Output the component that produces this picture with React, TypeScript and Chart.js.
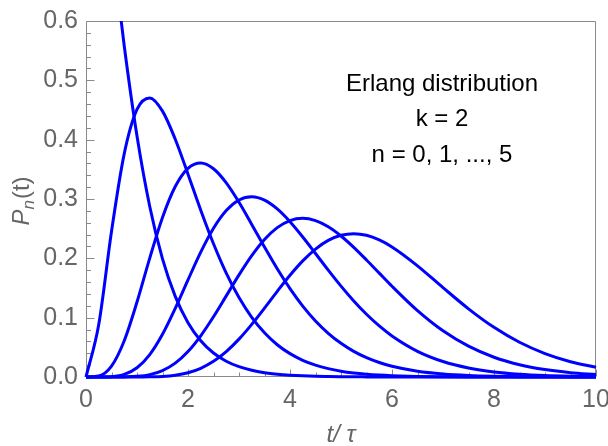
import React, { useEffect, useRef } from "react";
import { Chart, registerables } from "chart.js";

Chart.register(...registerables);

// t / tau sample positions
const T = [
  0, 0.25, 0.5, 0.75, 1, 1.25, 1.5, 1.75, 2, 2.25, 2.5, 2.75, 3, 3.25, 3.5, 3.75, 4,
  4.25, 4.5, 4.75, 5, 5.25, 5.5, 5.75, 6, 6.5, 7, 7.5, 8, 8.5, 9, 9.5, 10,
];

const P0 = [
  1, 0.9098, 0.7358, 0.5578, 0.406, 0.2873, 0.1991, 0.1359, 0.0916, 0.0611, 0.0404, 0.0266,
  0.0174, 0.0113, 0.0073, 0.0047, 0.003, 0.0019, 0.0012, 0.0008, 0.0005, 0.0003, 0.0002,
  0.0001, 0.0001, 0, 0, 0, 0, 0, 0, 0, 0,
];
const P1 = [
  0, 0.0885, 0.2453, 0.3765, 0.4511, 0.4703, 0.4481, 0.4007, 0.3419, 0.2812, 0.2246, 0.1751,
  0.1339, 0.1006, 0.0745, 0.0544, 0.0394, 0.0282, 0.02, 0.0141, 0.0098, 0.0068, 0.0047,
  0.0032, 0.0022, 0.001, 0.0005, 0.0002, 0.0001, 0, 0, 0, 0,
];
const P2 = [
  0, 0.0017, 0.0184, 0.0612, 0.1263, 0.2004, 0.2689, 0.321, 0.3517, 0.3606, 0.3509, 0.3272,
  0.2945, 0.2572, 0.2189, 0.1823, 0.1489, 0.1195, 0.0945, 0.0737, 0.0568, 0.0432, 0.0326,
  0.0244, 0.018, 0.0097, 0.0051, 0.0026, 0.0013, 0.0006, 0.0003, 0.0001, 0.0001,
];
const P3 = [
  0, 0, 0.0006, 0.0043, 0.0155, 0.0378, 0.072, 0.1156, 0.1637, 0.2105, 0.2507, 0.2806,
  0.2983, 0.3037, 0.298, 0.2832, 0.2617, 0.236, 0.2082, 0.1801, 0.1531, 0.1281, 0.1057,
  0.086, 0.0692, 0.0433, 0.0261, 0.0152, 0.0086, 0.0048, 0.0026, 0.0014, 0.0007,
];
const P4 = [
  0, 0, 0, 0.0002, 0.0011, 0.004, 0.0108, 0.0234, 0.043, 0.0695, 0.1015, 0.1367, 0.1721,
  0.2046, 0.2318, 0.2518, 0.2637, 0.2674, 0.2635, 0.2532, 0.2377, 0.2186, 0.1973, 0.1751,
  0.1529, 0.1118, 0.0778, 0.0519, 0.0333, 0.0207, 0.0125, 0.0073, 0.0042,
];
const P5 = [
  0, 0, 0, 0, 0, 0.0003, 0.001, 0.003, 0.0072, 0.0147, 0.0264, 0.0428, 0.0638, 0.0887,
  0.1162, 0.1444, 0.1715, 0.1957, 0.2156, 0.2302, 0.2388, 0.2416, 0.2388, 0.231, 0.2192,
  0.1874, 0.1506, 0.1149, 0.0837, 0.0585, 0.0395, 0.0258, 0.0164,
];

const SERIES = [P0, P1, P2, P3, P4, P5];

const ANNOTATION = ["Erlang distribution", "k = 2", "n = 0, 1, ..., 5"];

const FONT = "'Liberation Sans', Arial, sans-serif";
const TICK_GRAY = "#666666";
const FRAME_GRAY = "#8a8a8a";
const BLUE = "#0000ff";

const framePlugin = {
  id: "mmaFrame",
  beforeDatasetsDraw(chart: any) {
    const { ctx, chartArea, scales } = chart;
    const { left, right, top, bottom } = chartArea;
    const xs = scales.x;
    const ys = scales.y;
    ctx.save();
    ctx.strokeStyle = FRAME_GRAY;
    ctx.lineWidth = 1;
    const L = Math.round(left) + 0.5;
    const R = Math.round(right) - 0.5;
    const Tp = Math.round(top) + 0.5;
    const B = Math.round(bottom) - 0.5;
    ctx.beginPath();
    ctx.moveTo(L, Tp);
    ctx.lineTo(R, Tp);
    ctx.lineTo(R, B);
    ctx.lineTo(L, B);
    ctx.closePath();
    ctx.stroke();
    // x ticks (inward)
    ctx.beginPath();
    for (let i = 0; i <= 20; i++) {
      const v = i * 0.5;
      const px = Math.round(xs.getPixelForValue(v)) + 0.5;
      const len = i % 4 === 0 ? 7 : 4;
      ctx.moveTo(px, B);
      ctx.lineTo(px, B - len);
    }
    // y ticks (inward)
    for (let i = 0; i <= 30; i++) {
      const v = i * 0.02;
      const py = Math.round(ys.getPixelForValue(v)) + 0.5;
      const len = i % 5 === 0 ? 8 : 4.5;
      ctx.moveTo(L, py);
      ctx.lineTo(L + len, py);
    }
    ctx.stroke();
    ctx.restore();
  },
  afterDraw(chart: any) {
    const { ctx, chartArea } = chart;
    const { left, right, top, bottom } = chartArea;
    ctx.save();
    // annotation
    ctx.fillStyle = "#000000";
    ctx.font = `24px ${FONT}`;
    ctx.textAlign = "center";
    ctx.textBaseline = "alphabetic";
    const cx = 442;
    const baselines = [91, 126, 162];
    ANNOTATION.forEach((s, i) => ctx.fillText(s, cx, baselines[i]));

    // x axis title: t/τ
    ctx.fillStyle = TICK_GRAY;
    ctx.font = `italic 24px ${FONT}`;
    ctx.textAlign = "center";
    ctx.fillText("t/ τ", (left + right) / 2, 442);

    // y axis title: P_n(t)
    const midY = (top + bottom) / 2 + 2;
    ctx.translate(29, midY);
    ctx.rotate(-Math.PI / 2);
    ctx.textAlign = "left";
    const fMain = `24px ${FONT}`;
    const fItal = `italic 24px ${FONT}`;
    const fSub = `italic 17px ${FONT}`;
    ctx.font = fItal;
    const wP = ctx.measureText("P").width;
    ctx.font = fSub;
    const wn = ctx.measureText("n").width;
    ctx.font = fMain;
    const wt = ctx.measureText("(t)").width;
    const total = wP + wn + 1 + wt;
    let xx = -total / 2;
    ctx.font = fItal;
    ctx.fillText("P", xx, 0);
    xx += wP;
    ctx.font = fSub;
    ctx.fillText("n", xx, 5);
    xx += wn + 1;
    ctx.font = fMain;
    ctx.fillText("(t)", xx, 0);
    ctx.restore();
  },
};

export default function App() {
  const canvasRef = useRef<HTMLCanvasElement | null>(null);

  useEffect(() => {
    document.body.style.margin = "0";
    const canvas = canvasRef.current;
    if (!canvas) return;
    const datasets = SERIES.map((vals, i) => ({
      label: `n = ${i}`,
      data: T.map((t, j) => ({ x: t, y: vals[j] })),
      borderColor: BLUE,
      backgroundColor: BLUE,
      borderWidth: 3,
      pointRadius: 0,
      fill: false,
      cubicInterpolationMode: "monotone" as const,
      clip: { left: 4, right: 4, top: 0, bottom: 4 },
    }));
    const chart = new Chart(canvas, {
      type: "line",
      data: { datasets },
      options: {
        animation: false,
        responsive: false,
        devicePixelRatio: 1,
        layout: { padding: { top: 21, right: 12, left: 0, bottom: 0 } },
        plugins: {
          legend: { display: false },
          tooltip: { enabled: false },
        },
        scales: {
          x: {
            type: "linear",
            min: 0,
            max: 10,
            grid: { display: false, drawTicks: false },
            border: { display: false },
            ticks: {
              stepSize: 2,
              color: TICK_GRAY,
              font: { family: FONT, size: 25 },
              padding: 8,
              maxRotation: 0,
              autoSkip: false,
            },
            afterFit(s: any) {
              s.height = 69;
              s.paddingLeft = 0;
              s.paddingRight = 0;
            },
          },
          y: {
            type: "linear",
            min: 0,
            max: 0.6,
            grid: { display: false, drawTicks: false },
            border: { display: false },
            ticks: {
              stepSize: 0.1,
              color: TICK_GRAY,
              font: { family: FONT, size: 25 },
              padding: 8,
              callback: (v: any) => Number(v).toFixed(1),
            },
            afterFit(s: any) {
              s.width = 86;
              s.paddingTop = 0;
              s.paddingBottom = 0;
            },
          },
        },
      },
      plugins: [framePlugin],
    });
    return () => chart.destroy();
  }, []);

  return (
    <div style={{ width: 608, height: 446 }}>
      <canvas ref={canvasRef} width={608} height={446} style={{ width: 608, height: 446, display: "block" }} />
    </div>
  );
}
